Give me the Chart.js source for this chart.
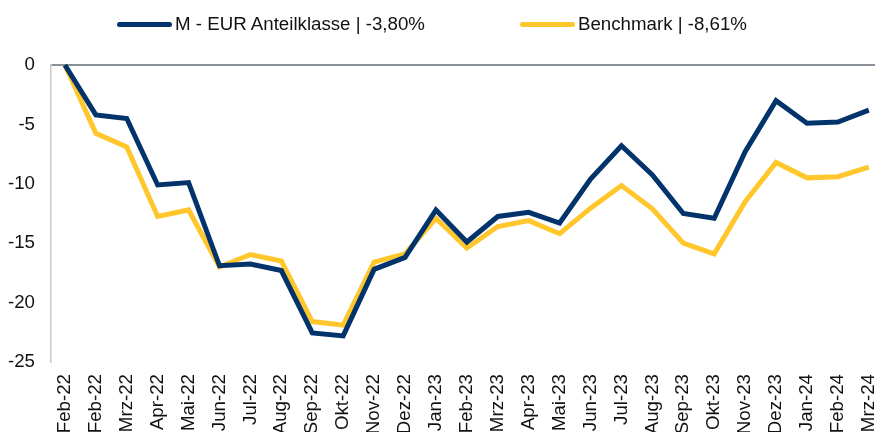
<!DOCTYPE html>
<html>
<head>
<meta charset="utf-8">
<script src="https://cdn.jsdelivr.net/npm/chart.js@4/dist/chart.umd.min.js"></script>
<style>
  html, body { margin: 0; padding: 0; background: #fff; }
  #wrap { position: relative; width: 875px; height: 432px; overflow: hidden; }
  canvas { position: absolute; left: 0; top: 0; }
  .leg { position: absolute; top: 12px; height: 24px; display: flex; align-items: center;
         font-family: "Liberation Sans", Arial, sans-serif; font-size: 18.7px; color: #111; white-space: nowrap; }
  .leg i { display: inline-block; width: 55px; height: 5px; border-radius: 3px; margin-right: 3px; }
</style>
</head>
<body>
<div id="wrap">
  <canvas id="c" width="875" height="432"></canvas>
  <div class="leg" id="leg0" style="left:117px;"><i></i><span></span></div>
  <div class="leg" id="leg1" style="left:520px;"><i></i><span></span></div>
</div>
<script>
const categories = ["Feb-22","Feb-22","Mrz-22","Apr-22","Mai-22","Jun-22","Jul-22","Aug-22","Sep-22","Okt-22","Nov-22","Dez-22","Jan-23","Feb-23","Mrz-23","Apr-23","Mai-23","Jun-23","Jul-23","Aug-23","Sep-23","Okt-23","Nov-23","Dez-23","Jan-24","Feb-24","Mrz-24"];
const fundValues = [0,-4.2,-4.5,-10.1,-9.9,-16.9,-16.75,-17.3,-22.55,-22.8,-17.2,-16.2,-12.2,-14.9,-12.75,-12.4,-13.3,-9.6,-6.8,-9.25,-12.5,-12.9,-7.3,-3.0,-4.9,-4.8,-3.8];
const benchmarkValues = [0,-5.75,-6.9,-12.75,-12.2,-17.0,-15.95,-16.5,-21.6,-21.9,-16.6,-15.9,-12.9,-15.4,-13.6,-13.1,-14.2,-12.05,-10.15,-12.1,-15.0,-15.9,-11.5,-8.2,-9.5,-9.4,-8.6];
const seriesNames = ["M - EUR Anteilklasse | -3,80%", "Benchmark | -8,61%"];
const yTicks = [0,-5,-10,-15,-20,-25];

const colors = ["#02346b", "#ffc72c"];
[0,1].forEach(i => {
  const el = document.getElementById("leg" + i);
  el.querySelector("i").style.background = colors[i];
  el.querySelector("span").textContent = seriesNames[i];
});

const toXY = arr => arr.map((v, i) => ({x: i, y: v}));
const font = {family: "'Liberation Sans', Arial, sans-serif", size: 18.7};

new Chart(document.getElementById("c"), {
  type: "line",
  data: {
    datasets: [
      {label: seriesNames[0], data: toXY(fundValues), borderColor: colors[0], backgroundColor: colors[0],
       borderWidth: 5, pointRadius: 0, tension: 0, clip: false, order: 0},
      {label: seriesNames[1], data: toXY(benchmarkValues), borderColor: colors[1], backgroundColor: colors[1],
       borderWidth: 5, pointRadius: 0, tension: 0, clip: false, order: 1}
    ]
  },
  options: {
    responsive: false,
    animation: false,
    layout: {padding: {top: 65, left: 8, right: 0, bottom: 0}},
    plugins: {legend: {display: false}, tooltip: {enabled: false}},
    scales: {
      x: {
        type: "linear",
        min: -0.45,
        max: 26.2,
        afterBuildTicks: s => { s.ticks = categories.map((_, i) => ({value: i})); },
        afterFit: s => { s.height = 70; s.paddingLeft = 0; s.paddingRight = 0; },
        ticks: {
          autoSkip: false, maxRotation: 90, minRotation: 90, padding: 12,
          color: "#111", font: font,
          callback: v => categories[v]
        },
        grid: {display: false, drawTicks: false},
        border: {display: false}
      },
      y: {
        min: -25, max: 0,
        afterBuildTicks: s => { s.ticks = yTicks.map(v => ({value: v})); },
        afterFit: s => { s.width = 43; s.paddingTop = 0; s.paddingBottom = 0; },
        ticks: {color: "#111", font: font, padding: 16},
        grid: {
          drawTicks: false,
          color: c => c.tick && c.tick.value === 0 ? "#8a9098" : "rgba(0,0,0,0)",
          lineWidth: c => c.tick && c.tick.value === 0 ? 2 : 0
        },
        border: {display: true, color: "#c4c7cc", width: 1.5}
      }
    }
  }
});
</script>
</body>
</html>
